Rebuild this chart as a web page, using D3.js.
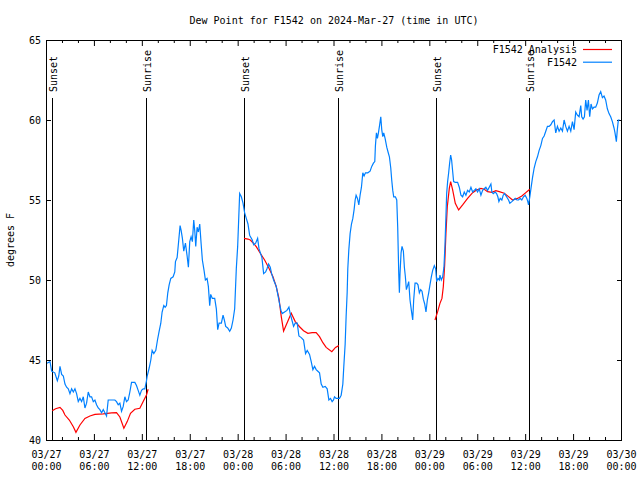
<!DOCTYPE html>
<html><head><meta charset="utf-8">
<script src="https://cdn.jsdelivr.net/npm/d3@7"></script>
<style>
body{margin:0;background:#fff}
svg text{font-family:"DejaVu Sans Mono",monospace;font-size:10px;fill:#000}
</style>
</head><body>
<svg id="chart" width="640" height="480"></svg>
<script>
// ---------------- data ----------------
const chartTitle = "Dew Point for F1542 on 2024-Mar-27 (time in UTC)";
const yAxisLabel = "degrees F";
const yTickValues = [40, 45, 50, 55, 60, 65];
const xTickHours = [0, 6, 12, 18, 24, 30, 36, 42, 48, 54, 60, 66, 72];
const xTickDates = ["03/27","03/27","03/27","03/27","03/28","03/28","03/28","03/28","03/29","03/29","03/29","03/29","03/30"];
const xTickTimes = ["00:00","06:00","12:00","18:00","00:00","06:00","12:00","18:00","00:00","06:00","12:00","18:00","00:00"];
const sunHours  = [0.73, 12.47, 24.77, 36.55, 48.83, 60.52];
const sunLabels = ["Sunset","Sunrise","Sunset","Sunrise","Sunset","Sunrise"];
const seriesNames = ["F1542 Analysis", "F1542"];

// observations: [hours since 03/27 00:00 UTC, dew point F]
const observed = [
[0.1,44.8],[0.5,44.9],[0.71,44.3],[1.1,44.2],[1.42,43.7],[1.6,44.0],[1.75,44.6],[1.96,44.1],[2.17,44.0],[2.375,43.5],[2.58,43.3],[2.79,43.2],[3.0,42.9],[3.21,43.2],[3.42,43.0],[3.625,43.2],[3.83,42.9],[4.04,42.4],[4.25,42.6],[4.46,42.4],[4.67,42.7],[4.875,42.0],[5.08,42.3],[5.29,43.0],[5.5,42.7],[5.71,42.7],[5.92,42.4],[6.125,42.5],[6.33,42.2],[6.54,42.0],[6.75,41.9],[6.96,41.7],[7.17,41.9],[7.375,41.7],[7.58,41.5],[7.79,42.5],[8.21,42.5],[8.625,42.5],[8.83,42.4],[9.04,42.2],[9.25,42.3],[9.46,41.8],[9.67,42.1],[9.875,42.7],[10.08,42.4],[10.29,42.5],[10.5,43.0],[10.71,43.6],[11.125,43.6],[11.33,43.4],[11.54,43.1],[11.75,42.8],[11.96,43.1],[12.17,43.2],[12.375,43.2],[12.58,43.7],
[12.67,44.0],[12.92,44.5],[13.125,45.0],[13.29,45.6],[13.5,45.4],[13.75,45.6],[13.96,46.25],[14.17,46.8],[14.375,47.3],[14.54,48.0],[14.75,48.4],[14.92,48.3],[15.08,48.4],[15.25,49.2],[15.42,49.7],[15.625,50.1],[15.92,50.2],[16.125,50.5],[16.21,51.15],[16.42,51.4],[16.625,52.5],[16.79,53.4],[16.92,53.1],[17.08,52.6],[17.25,51.8],[17.46,52.3],[17.67,51.5],[17.83,50.8],[18.0,52.4],[18.17,52.7],[18.33,52.4],[18.5,53.75],[18.625,53.1],[18.75,52.1],[18.92,53.3],[19.08,53.0],[19.25,53.5],[19.42,52.3],[19.58,51.25],[19.79,50.6],[19.96,50.0],[20.17,50.1],[20.33,49.6],[20.5,48.4],[20.625,49.1],[20.83,48.85],[21.125,48.85],[21.33,48.2],[21.5,46.9],[21.67,47.3],[21.96,47.3],[22.17,47.8],[22.33,47.5],[22.5,47.1],[22.75,47.0],[23.0,46.8],[23.21,47.0],[23.42,47.5],[23.625,48.2],[23.83,50.7],[24.0,52.1],[24.125,53.75],[24.25,55.4],[24.46,55.2],[24.67,54.8],[24.875,54.2],[25.08,53.85],[25.29,53.5],
[25.5,52.8],[25.83,52.5],[26.0,52.2],[26.25,52.3],[26.5,52.6],[26.67,51.96],[26.875,51.65],[27.04,51.4],[27.25,50.4],[27.5,50.5],[27.67,50.7],[27.875,51.0],[28.08,50.8],[28.25,50.4],[28.5,50.0],[28.67,49.8],[28.83,49.6],[29.04,49.06],[29.25,48.5],[29.42,48.1],[29.58,47.9],[29.875,48.0],[30.17,48.1],[30.42,48.3],[30.58,47.9],[30.79,47.5],[31.0,47.1],[31.2,47.3],[31.46,47.3],[31.67,46.5],[31.96,46.4],[32.25,46.25],[32.5,45.4],[32.71,45.6],[33.0,45.35],[33.21,44.9],[33.42,44.4],[33.625,44.6],[33.83,44.4],[34.04,44.3],[34.25,44.2],[34.46,43.5],[34.67,43.3],[34.96,43.35],[35.21,43.2],[35.42,42.5],[35.625,42.6],[35.83,42.4],[36.0,42.5],[36.125,42.7],[36.33,42.6],[36.54,42.6],[36.75,42.6],[36.96,42.8],[37.17,43.5],[37.29,44.6],[37.46,46.0],[37.58,47.7],[37.71,49.2],[37.79,50.7],[37.92,51.9],
[38.08,52.9],[38.25,53.5],[38.42,53.85],[38.58,54.4],[38.71,55.0],[38.83,55.3],[39.0,55.1],[39.17,54.7],[39.33,55.3],[39.5,55.8],[39.67,56.7],[39.83,56.5],[40.0,56.7],[40.29,56.7],[40.58,56.8],[40.79,57.1],[41.0,57.3],[41.17,57.4],[41.25,58.4],[41.375,59.2],[41.5,58.85],[41.625,59.2],[41.75,59.6],[41.92,60.2],[42.04,59.4],[42.17,58.96],[42.29,59.2],[42.46,58.85],[42.67,58.3],[42.83,58.0],[43.0,57.7],[43.17,57.0],[43.29,56.25],[43.42,55.6],[43.54,55.2],[43.75,55.2],[43.92,55.0],[44.04,53.3],[44.17,50.4],[44.25,49.2],[44.33,50.4],[44.46,51.7],[44.58,52.1],[44.75,51.8],[44.875,50.8],[45.0,50.2],[45.125,49.4],[45.25,49.6],[45.42,49.9],[45.58,48.75],[45.75,48.1],[45.92,47.5],[46.04,48.75],[46.21,49.8],[46.42,49.8],[46.58,49.7],[46.75,49.2],[46.92,49.4],[47.08,49.3],[47.25,48.8],[47.42,48.5],[47.58,48.0],[47.75,48.75],[47.92,49.2],[48.08,49.7],[48.25,50.2],[48.42,50.6],[48.625,50.9],[48.79,50.7],[48.92,49.9],[49.08,50.1],[49.25,50.0],
[49.33,50.3],[49.5,50.0],[49.67,50.2],[49.83,50.8],[49.96,52.2],[50.08,54.0],[50.17,55.4],[50.29,56.15],[50.42,56.7],[50.54,57.3],[50.67,57.8],[50.79,57.5],[50.92,56.8],[51.04,56.15],[51.25,56.1],[51.54,56.1],[51.75,55.8],[51.96,55.3],[52.17,55.2],[52.375,55.5],[52.58,55.3],[52.79,55.6],[53.0,55.5],[53.21,55.8],[53.42,55.5],[53.625,55.6],[53.83,55.7],[54.04,55.5],[54.25,55.7],[54.46,55.3],[54.67,55.6],[54.875,55.7],[55.08,55.8],[55.29,55.6],[55.5,55.8],[55.71,56.0],[55.83,55.5],[56.0,55.4],[56.25,55.5],[56.42,55.4],[56.58,55.2],[56.71,54.9],[56.875,55.1],[57.08,55.0],[57.25,55.3],[57.42,55.4],[57.67,55.2],[57.92,55.0],[58.08,54.8],[58.33,54.9],[58.54,55.0],[58.75,55.1],[58.96,55.0],[59.17,55.0],[59.375,55.1],[59.58,55.0],[59.79,55.2],[60.0,55.3],[60.21,55.1],[60.33,54.9],[60.42,54.7],[60.58,55.2],[60.75,55.8],[60.92,56.4],[61.125,57.0],[61.33,57.4],[61.54,57.7],[61.75,58.1],[61.96,58.4],[62.17,58.85],[62.375,59.0],[62.58,59.3],[62.79,59.6],[63.0,59.6],[63.21,59.7],[63.42,59.9],[63.625,60.0],[63.83,59.2],[64.04,59.6],[64.25,59.3],[64.46,59.5],[64.67,59.3],[64.875,60.0],[65.08,59.6],[65.29,59.3],[65.5,59.6],[65.71,59.3],[65.92,59.9],[66.125,59.4],[66.33,60.5],[66.54,60.3],[66.75,60.2],[66.96,60.9],[67.08,60.2],[67.25,60.06],[67.42,60.2],[67.58,61.25],[67.75,60.6],[67.92,61.25],[68.08,60.2],[68.25,61.0],[68.42,60.7],[68.625,60.8],[68.83,60.8],[69.04,61.06],[69.25,61.56],[69.46,61.77],[69.67,61.4],[69.875,61.5],[70.08,61.25],[70.29,60.7],[70.5,60.4],[70.71,60.2],[70.92,59.9],[71.125,59.5],[71.25,59.2],[71.42,58.65],[71.54,59.4],[71.67,60.0],[71.83,60.0]
];

// analysis (night periods); null separates segments
const analysis = [
[0.79,41.83],[1.2,41.95],[1.75,42.04],[2.1,41.85],[2.375,41.56],[2.92,41.25],[3.42,40.83],[3.75,40.48],[4.25,40.94],[4.875,41.35],[5.5,41.5],[6.125,41.6],[7.17,41.63],[8.21,41.7],[8.83,41.71],[9.25,41.44],[9.75,40.73],[10.17,41.15],[10.58,41.67],[11.125,41.92],[11.75,41.98],[12.17,42.4],[12.58,42.81],[12.79,43.17],
null,
[24.79,52.6],[25.29,52.56],[25.58,52.5],[25.92,52.33],[26.33,52.08],[26.83,51.67],[27.375,51.25],[27.92,50.73],[28.42,50.21],[28.83,49.58],[29.17,48.85],[29.46,47.71],[29.75,46.81],[30.17,47.29],[30.71,47.92],[31.21,47.4],[31.75,47.08],[32.25,46.83],[32.79,46.67],[33.33,46.71],[33.83,46.71],[34.25,46.46],[34.67,46.08],[35.08,45.79],[35.79,45.52],[36.25,45.79],[36.67,45.9],
null,
[48.71,47.5],[49.04,48.02],[49.33,48.54],[49.58,48.85],[49.75,49.58],[49.92,50.94],[50.08,52.92],[50.25,54.58],[50.5,55.73],[50.67,56.15],[50.92,55.63],[51.25,54.79],[51.67,54.38],[52.17,54.69],[52.79,55.1],[53.42,55.46],[53.92,55.63],[54.46,55.73],[54.875,55.67],[55.29,55.52],[55.83,55.48],[56.33,55.58],[56.75,55.52],[57.375,55.42],[57.92,55.21],[58.42,55.0],[59.04,55.1],[59.58,55.25],[60.08,55.46],[60.58,55.67]
];

// ---------------- drawing ----------------
const svg = d3.select("#chart");
const L = 46, R = 621, T = 40, B = 440;
const x = d3.scaleLinear().domain([0, 72]).range([L, R]);
const y = d3.scaleLinear().domain([40, 65]).range([B, T]);
const colors = {analysis: "#ff0000", obs: "#0080ff"};

svg.append("rect").attr("width", 640).attr("height", 480).attr("fill", "#fff");

// title
svg.append("text").attr("x", 334).attr("y", 23.5).attr("text-anchor", "middle").text(chartTitle);

// y label
svg.append("text").attr("transform", "translate(14,240) rotate(-90)").attr("text-anchor", "middle").text(yAxisLabel);

// ticks via d3 axes
function clean(g){ g.select(".domain").remove(); g.selectAll("line").attr("stroke","#000"); }
const minorHours = d3.range(0, 73, 2).filter(h => h % 6 !== 0);
svg.append("g").attr("transform", `translate(0,${B})`)
  .call(d3.axisBottom(x).tickValues(xTickHours).tickSize(-6).tickFormat("")).call(clean);
svg.append("g").attr("transform", `translate(0,${B})`)
  .call(d3.axisBottom(x).tickValues(minorHours).tickSize(-3).tickFormat("")).call(clean);
svg.append("g").attr("transform", `translate(0,${T})`)
  .call(d3.axisTop(x).tickValues(xTickHours).tickSize(-6).tickFormat("")).call(clean);
svg.append("g").attr("transform", `translate(0,${T})`)
  .call(d3.axisTop(x).tickValues(minorHours).tickSize(-3).tickFormat("")).call(clean);
svg.append("g").attr("transform", `translate(${L},0)`)
  .call(d3.axisLeft(y).tickValues(yTickValues).tickSize(-5).tickFormat("")).call(clean);
svg.append("g").attr("transform", `translate(${R + 1},0)`)
  .call(d3.axisRight(y).tickValues(yTickValues).tickSize(-5).tickFormat("")).call(clean);

// tick labels
svg.append("g").selectAll("text").data(yTickValues).join("text")
  .attr("x", 41).attr("y", d => y(d) + 3.6).attr("text-anchor", "end").text(d => d);
const xl = svg.append("g").selectAll("g").data(xTickHours).join("g");
xl.append("text").attr("x", d => x(d) + 0.5).attr("y", 457.5).attr("text-anchor", "middle").text((d, i) => xTickDates[i]);
xl.append("text").attr("x", d => x(d) + 0.5).attr("y", 470).attr("text-anchor", "middle").text((d, i) => xTickTimes[i]);

// sunrise / sunset lines
const sg = svg.append("g").selectAll("g").data(sunHours).join("g");
sg.append("line")
  .attr("x1", d => Math.round(x(d)) + 0.5).attr("x2", d => Math.round(x(d)) + 0.5)
  .attr("y1", 98).attr("y2", B).attr("stroke", "#000").attr("stroke-width", 1);
sg.append("text")
  .attr("transform", d => `translate(${Math.round(x(d)) + 0.5},92) rotate(-90)`)
  .attr("dy", 4).attr("text-anchor", "start").text((d, i) => sunLabels[i]);

// series lines
const line = d3.line().defined(d => d !== null).x(d => x(d[0])).y(d => y(d[1]));
svg.append("path").datum(analysis).attr("d", line)
  .attr("fill", "none").attr("stroke", colors.analysis).attr("stroke-width", 1.2);
svg.append("path").datum(observed).attr("d", line)
  .attr("fill", "none").attr("stroke", colors.obs).attr("stroke-width", 1.2);

// frame
svg.append("rect").attr("x", L + 0.5).attr("y", T + 0.5).attr("width", R - L).attr("height", B - T)
  .attr("fill", "none").attr("stroke", "#000").attr("stroke-width", 1);

// legend
const lg = svg.append("g").selectAll("g").data(seriesNames).join("g");
lg.append("text").attr("x", 577).attr("y", (d, i) => 53.3 + i * 12.7).attr("text-anchor", "end").text(d => d);
lg.append("line").attr("x1", 583).attr("x2", 612)
  .attr("y1", (d, i) => 49.5 + i * 12.7).attr("y2", (d, i) => 49.5 + i * 12.7)
  .attr("stroke", (d, i) => i === 0 ? colors.analysis : colors.obs).attr("stroke-width", 1.2);
</script>
</body></html>
